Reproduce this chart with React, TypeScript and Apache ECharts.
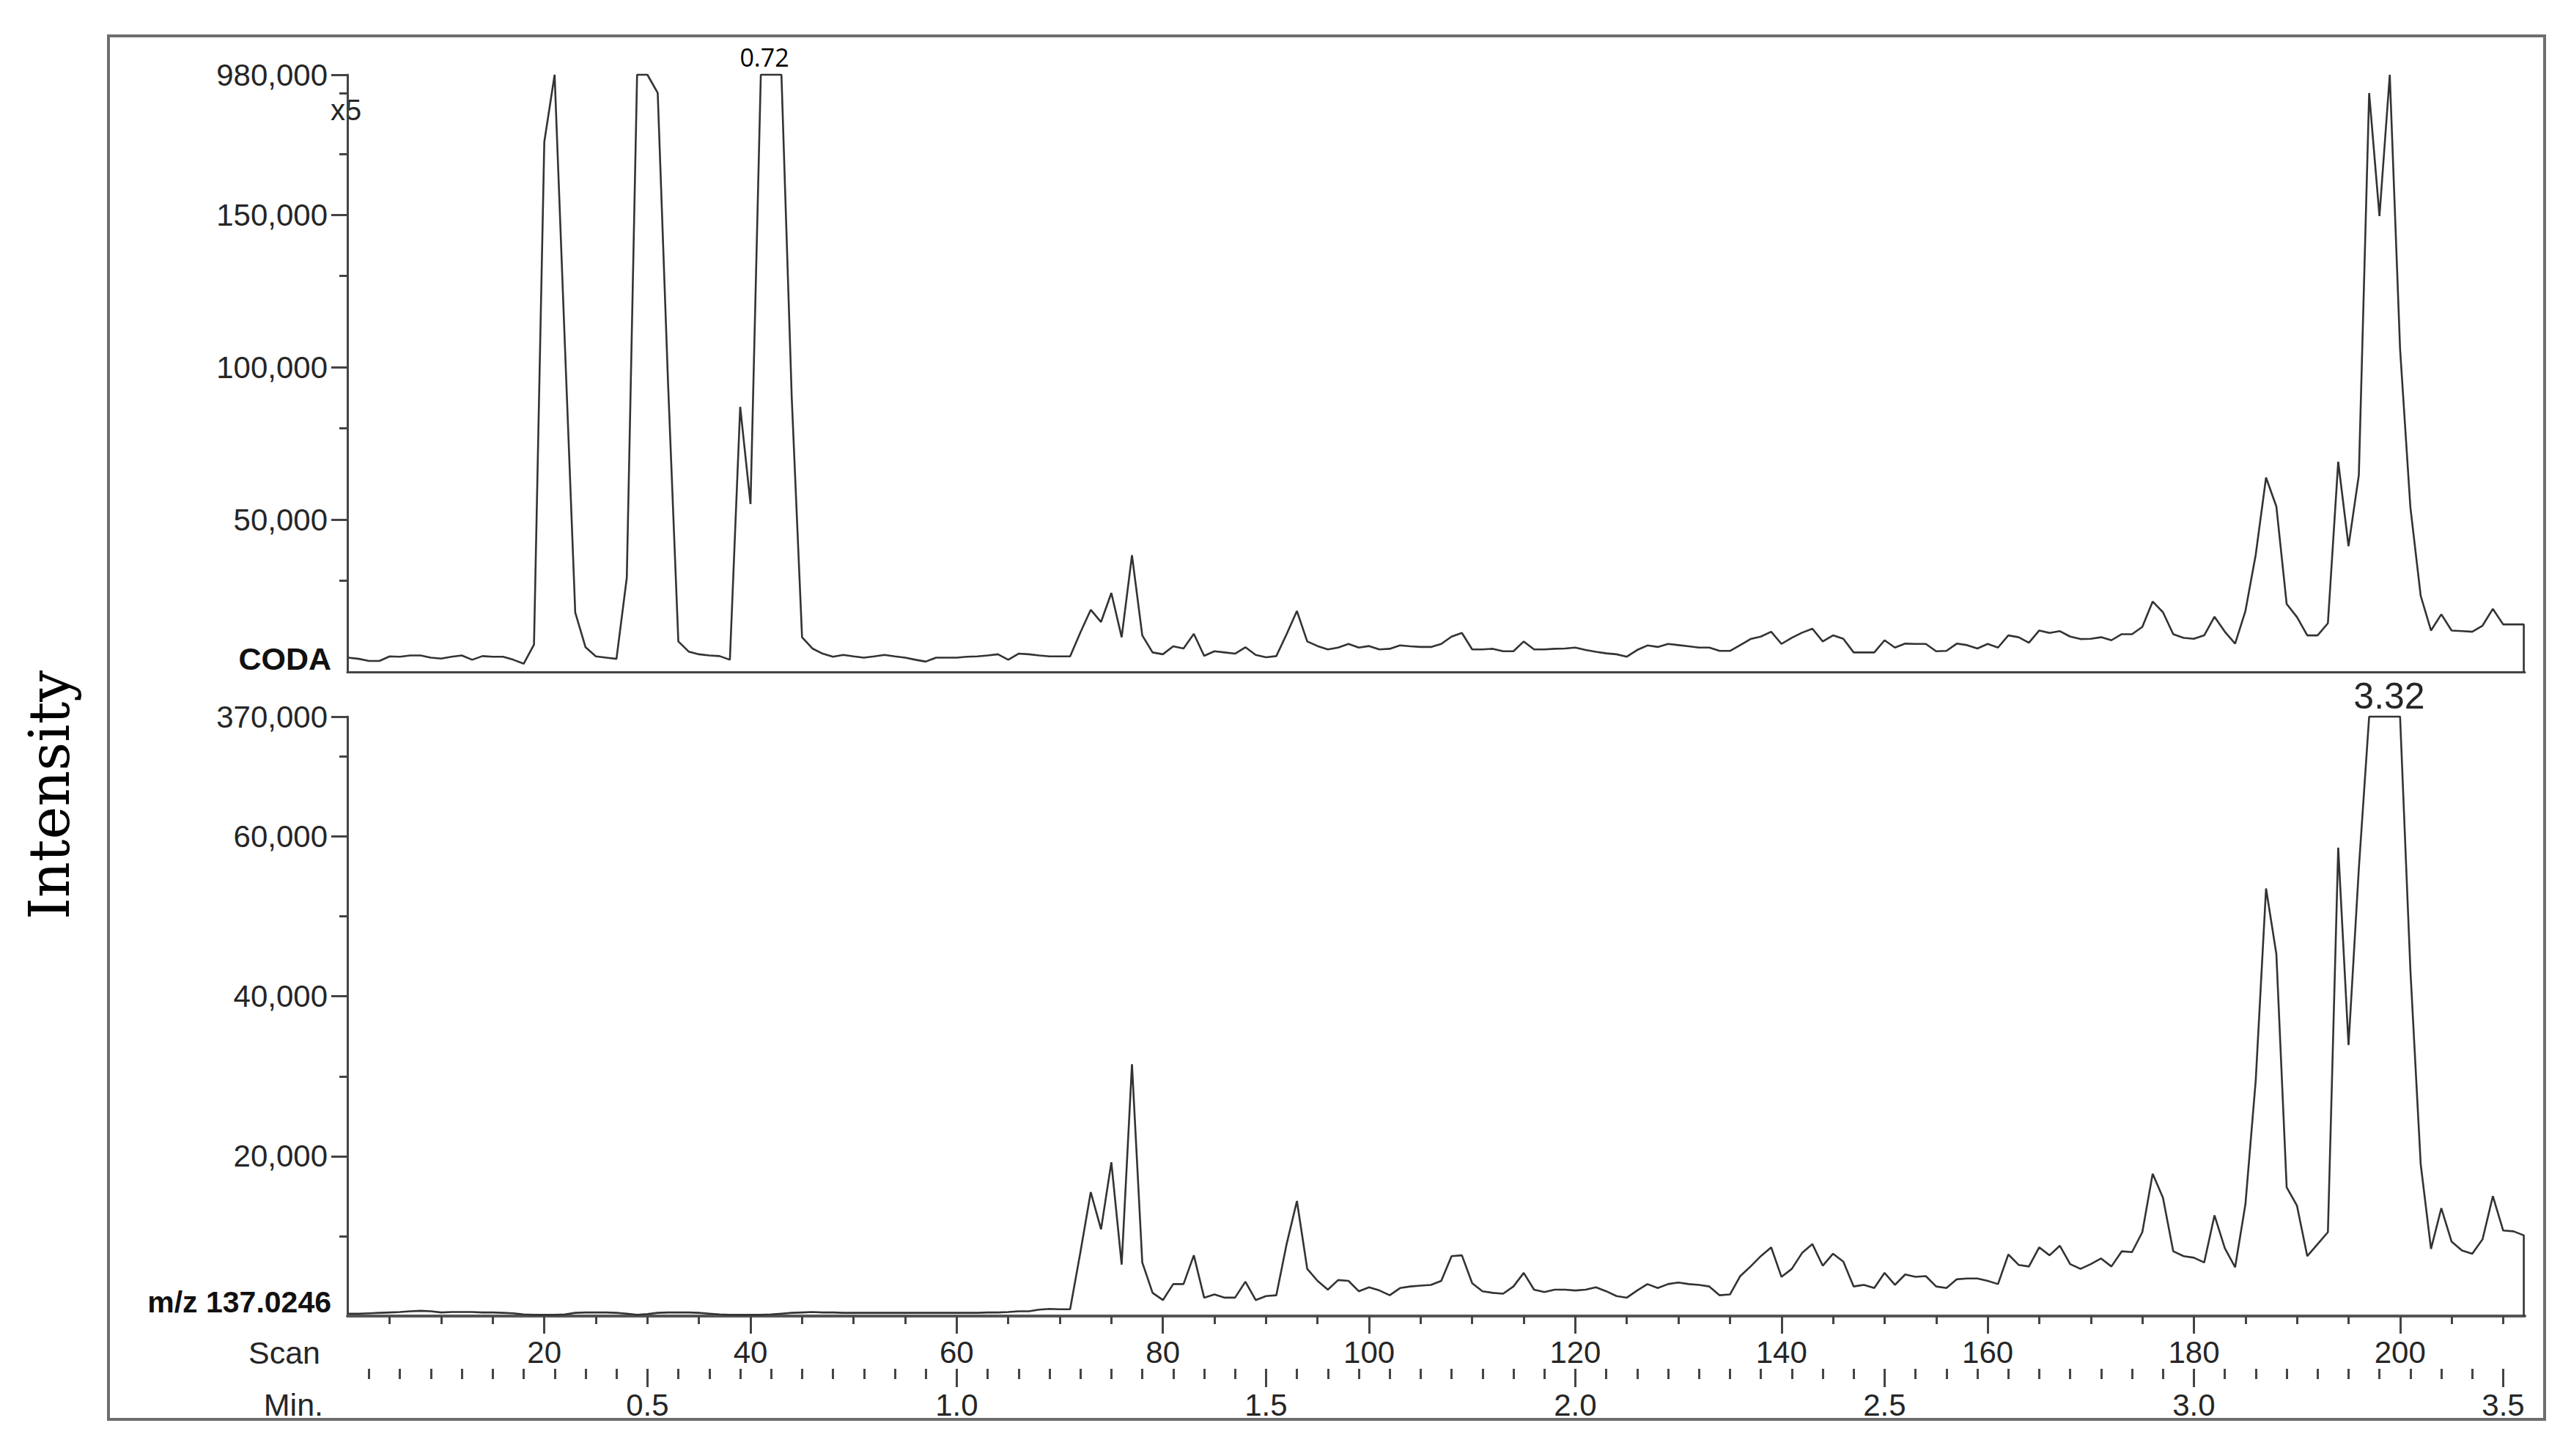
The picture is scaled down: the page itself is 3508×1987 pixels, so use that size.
import React, { useEffect, useRef } from 'react';
import * as echarts from 'echarts';

// ---------- data ----------
const SCAN_START = 1;

// CODA trace (scan 1..212), displayed x5 (full scale 980,000 -> 196,000)
const TOP_INTENSITY = [
  4700, 4300, 3600, 3600, 5100, 5000, 5400, 5400, 4700, 4400,
  5000, 5400, 4000, 5200, 5000, 5000, 4000, 2700, 9000, 174000,
  196000, 107000, 19500, 8100, 5100, 4700, 4300, 30900, 196000, 196000,
  190000, 95000, 10000, 6700, 5800, 5400, 5200, 4000, 87000, 55100,
  196000, 196000, 196000, 90000, 11400, 7700, 6000, 5000, 5600, 5100,
  4700, 5100, 5600, 5100, 4700, 4000, 3400, 4700, 4700, 4700,
  5000, 5100, 5400, 5800, 4000, 6000, 5800, 5400, 5100, 5100,
  5100, 13000, 20400, 16400, 25900, 11400, 38300, 12000, 6400, 5800,
  8400, 7700, 12500, 5300, 6800, 6400, 6000, 8100, 5600, 4800,
  5200, 12400, 20000, 10000, 8500, 7400, 8000, 9200, 8000, 8500,
  7400, 7600, 8700, 8400, 8200, 8200, 9200, 11600, 12800, 7400,
  7400, 7600, 6800, 6800, 10000, 7400, 7400, 7600, 7700, 8000,
  7200, 6600, 6100, 5800, 5000, 7200, 8700, 8200, 9200, 8800,
  8400, 8000, 8000, 6900, 6900, 8800, 10800, 11600, 13200, 9200,
  11200, 12900, 14200, 10000, 12000, 10900, 6400, 6400, 6400, 10400,
  8000, 9300, 9200, 9200, 6800, 6900, 9300, 8800, 7700, 9200,
  8000, 12000, 11400, 9600, 13600, 12800, 13400, 11600, 10800, 10900,
  11400, 10400, 12400, 12400, 14800, 23100, 19600, 12400, 11200, 10900,
  12000, 18100, 13200, 9300, 20000, 38500, 63800, 54300, 22300, 18000,
  12000, 12000, 16000, 69000, 41300, 64600, 190000, 149600, 196000, 106000,
  54000, 25000, 13600, 18900, 13600, 13400, 13200, 15200, 20700, 15600,
  15600, 15600,
];

// m/z 137.0246 trace (scan 1..212), displayed x5 (full scale 370,000 -> 75,000)
const BOTTOM_INTENSITY = [
  300, 300, 350, 400, 450, 500, 600, 650, 600, 450,
  500, 500, 500, 450, 450, 400, 350, 200, 150, 150,
  150, 200, 400, 450, 450, 450, 400, 300, 150, 250,
  400, 450, 450, 450, 400, 300, 200, 150, 150, 150,
  150, 200, 300, 400, 450, 500, 450, 450, 400, 400,
  400, 400, 400, 400, 400, 400, 400, 400, 400, 400,
  400, 400, 450, 450, 500, 600, 600, 800, 900, 850,
  850, 8000, 15500, 10850, 19240, 6440, 31500, 6700, 2900, 2000,
  4000, 4000, 7600, 2300, 2700, 2300, 2300, 4300, 2000, 2500,
  2600, 9000, 14400, 5900, 4400, 3300, 4500, 4400, 3100, 3600,
  3200, 2600, 3500, 3700, 3800, 3900, 4400, 7500, 7600, 4100,
  3100, 2900, 2800, 3700, 5400, 3300, 3000, 3300, 3300, 3200,
  3300, 3600, 3100, 2500, 2300, 3200, 4000, 3500, 4000, 4200,
  4000, 3900, 3700, 2600, 2700, 5000, 6200, 7500, 8600, 4900,
  5900, 7900, 9000, 6300, 7800, 6800, 3700, 3900, 3500, 5400,
  3900, 5200, 4900, 5000, 3700, 3500, 4600, 4700, 4700, 4400,
  4000, 7700, 6400, 6200, 8600, 7600, 8800, 6500, 5900, 6500,
  7200, 6200, 8100, 8000, 10500, 17800, 14800, 8100, 7500, 7300,
  6700, 12600, 8500, 6100, 14000, 29500, 53500, 45300, 16100, 13800,
  7500, 9000, 10500, 58600, 33900, 56000, 75000, 75000, 75000, 75000,
  43300, 19000, 8400, 13500, 9300, 8200, 7800, 9600, 15000, 10700,
  10600, 10100,
];

const TRACE_NAMES = ['CODA', 'm/z 137.0246'];
const PEAK_LABELS = ['0.72', '3.32'];
const SCALE_LABEL = 'x5';

const SCAN_TICK_LABELS = [20, 40, 60, 80, 100, 120, 140, 160, 180, 200];
const MIN_TICK_LABELS = [0.5, 1.0, 1.5, 2.0, 2.5, 3.0, 3.5];

const TOP_Y_MAX = 196000;
const TOP_Y_TICKS = [50000, 100000, 150000, 196000];
const TOP_Y_LABELS = ['50,000', '100,000', '150,000', '980,000'];
const TOP_Y_MINOR = [30000, 80000, 130000, 170000, 190000];

const BOTTOM_Y_MAX = 75000;
const BOTTOM_Y_TICKS = [20000, 40000, 60000, 75000];
const BOTTOM_Y_LABELS = ['20,000', '40,000', '60,000', '370,000'];
const BOTTOM_Y_MINOR = [10000, 30000, 50000, 70000];

const X_MIN = 0.9;
const X_MAX = 212.1;

// ---------- helpers ----------
const toSeries = (vals: number[]) => {
  const pts: number[][] = vals.map((v, i) => [SCAN_START + i, v]);
  const last = SCAN_START + vals.length - 1;
  pts.push([last, 0]);
  return pts;
};

const FONT = '"Liberation Sans", Arial, Helvetica, sans-serif';
const AX = '#444';
const TXT = '#262626';

const scanMinor: number[] = [];
for (let s = 5; s <= 210; s += 5) scanMinor.push(s);
const minMinor: number[] = [];
for (let i = 1; i <= 70; i++) minMinor.push(Math.round(i * 5) / 100);

const labelFor = (ticks: number[], labels: string[]) => (v: number) => {
  const idx = ticks.findIndex((t) => Math.abs(t - v) < 1e-6);
  return idx >= 0 ? labels[idx] : '';
};

export default function App() {
  const ref = useRef<HTMLDivElement>(null);

  useEffect(() => {
    if (!ref.current) return;
    const chart = echarts.init(ref.current, undefined, {
      renderer: 'svg',
      width: 3508,
      height: 1987,
    });

    const G_LEFT = 474;
    const G_WIDTH = 2971;

    const baseX = {
      type: 'value',
      min: X_MIN,
      max: X_MAX,
      splitLine: { show: false },
      position: 'bottom',
    };

    const option: any = {
      animation: false,
      backgroundColor: '#ffffff',
      grid: [
        { left: G_LEFT, top: 102, width: G_WIDTH, height: 815 },
        { left: G_LEFT, top: 978, width: G_WIDTH, height: 818 },
        { left: G_LEFT, top: 1867, width: G_WIDTH, height: 1 },
      ],
      xAxis: [
        {
          ...baseX,
          gridIndex: 0,
          axisLine: { show: true, onZero: false, lineStyle: { color: AX, width: 3 } },
          axisTick: { show: false },
          axisLabel: { show: false },
        },
        {
          ...baseX,
          gridIndex: 1,
          axisLine: { show: true, onZero: false, lineStyle: { color: '#555', width: 4 } },
          axisTick: {
            show: true,
            customValues: SCAN_TICK_LABELS,
            length: 24,
            lineStyle: { color: AX, width: 3 },
          },
          axisLabel: {
            show: true,
            customValues: SCAN_TICK_LABELS,
            margin: 28,
            fontSize: 42,
            fontFamily: FONT,
            color: TXT,
          },
        },
        {
          ...baseX,
          gridIndex: 1,
          axisLine: { show: false, onZero: false },
          axisTick: {
            show: true,
            customValues: scanMinor,
            length: 11,
            lineStyle: { color: AX, width: 3 },
          },
          axisLabel: { show: false },
        },
        {
          type: 'value',
          gridIndex: 2,
          position: 'bottom',
          min: X_MIN / 60,
          max: X_MAX / 60,
          splitLine: { show: false },
          axisLine: { show: false, onZero: false },
          axisTick: {
            show: true,
            customValues: MIN_TICK_LABELS,
            length: 25,
            lineStyle: { color: AX, width: 3 },
          },
          axisLabel: {
            show: true,
            customValues: MIN_TICK_LABELS,
            formatter: (v: number) => v.toFixed(1),
            margin: 28,
            fontSize: 42,
            fontFamily: FONT,
            color: TXT,
          },
        },
        {
          type: 'value',
          gridIndex: 2,
          position: 'bottom',
          min: X_MIN / 60,
          max: X_MAX / 60,
          splitLine: { show: false },
          axisLine: { show: false, onZero: false },
          axisTick: {
            show: true,
            customValues: minMinor,
            length: 14,
            lineStyle: { color: AX, width: 3 },
          },
          axisLabel: { show: false },
        },
      ],
      yAxis: [
        {
          type: 'value',
          gridIndex: 0,
          position: 'left',
          min: 0,
          max: TOP_Y_MAX,
          splitLine: { show: false },
          axisLine: { show: true, lineStyle: { color: AX, width: 3 } },
          axisTick: {
            show: true,
            customValues: TOP_Y_TICKS,
            length: 22,
            lineStyle: { color: AX, width: 3 },
          },
          axisLabel: {
            show: true,
            customValues: TOP_Y_TICKS,
            formatter: labelFor(TOP_Y_TICKS, TOP_Y_LABELS),
            margin: 27,
            fontSize: 42,
            fontFamily: FONT,
            color: TXT,
          },
        },
        {
          type: 'value',
          gridIndex: 0,
          position: 'left',
          min: 0,
          max: TOP_Y_MAX,
          splitLine: { show: false },
          axisLine: { show: false },
          axisTick: {
            show: true,
            customValues: TOP_Y_MINOR,
            length: 11,
            lineStyle: { color: AX, width: 3 },
          },
          axisLabel: { show: false },
        },
        {
          type: 'value',
          gridIndex: 1,
          position: 'left',
          min: 0,
          max: BOTTOM_Y_MAX,
          splitLine: { show: false },
          axisLine: { show: true, lineStyle: { color: AX, width: 3 } },
          axisTick: {
            show: true,
            customValues: BOTTOM_Y_TICKS,
            length: 22,
            lineStyle: { color: AX, width: 3 },
          },
          axisLabel: {
            show: true,
            customValues: BOTTOM_Y_TICKS,
            formatter: labelFor(BOTTOM_Y_TICKS, BOTTOM_Y_LABELS),
            margin: 27,
            fontSize: 42,
            fontFamily: FONT,
            color: TXT,
          },
        },
        {
          type: 'value',
          gridIndex: 1,
          position: 'left',
          min: 0,
          max: BOTTOM_Y_MAX,
          splitLine: { show: false },
          axisLine: { show: false },
          axisTick: {
            show: true,
            customValues: BOTTOM_Y_MINOR,
            length: 11,
            lineStyle: { color: AX, width: 3 },
          },
          axisLabel: { show: false },
        },
        {
          type: 'value',
          gridIndex: 2,
          min: 0,
          max: 1,
          show: false,
        },
      ],
      series: [
        {
          name: TRACE_NAMES[0],
          type: 'line',
          xAxisIndex: 0,
          yAxisIndex: 0,
          data: toSeries(TOP_INTENSITY),
          showSymbol: false,
          symbol: 'none',
          clip: false,
          lineStyle: { color: '#333', width: 2.6 },
        },
        {
          name: TRACE_NAMES[1],
          type: 'line',
          xAxisIndex: 1,
          yAxisIndex: 2,
          data: toSeries(BOTTOM_INTENSITY),
          showSymbol: false,
          symbol: 'none',
          clip: false,
          lineStyle: { color: '#333', width: 2.6 },
        },
      ],
      graphic: [
        {
          type: 'rect',
          shape: { x: 148, y: 49, width: 3324, height: 1888 },
          style: { fill: 'none', stroke: '#6e6e6e', lineWidth: 4 },
          silent: true,
        },
        {
          type: 'text',
          x: 67,
          y: 1085,
          rotation: Math.PI / 2,
          style: {
            text: 'Intensity',
            fontSize: 76,
            fontFamily: '"DejaVu Serif", "Liberation Serif", serif',
            fill: '#000',
            align: 'center',
            verticalAlign: 'middle',
          },
        },
        {
          type: 'text',
          x: 472,
          y: 150,
          style: {
            text: SCALE_LABEL,
            fontSize: 40,
            fontFamily: FONT,
            fill: TXT,
            align: 'center',
            verticalAlign: 'middle',
          },
        },
        {
          type: 'text',
          x: 452,
          y: 899,
          style: {
            text: TRACE_NAMES[0],
            fontSize: 43,
            fontWeight: 'bold',
            fontFamily: FONT,
            fill: '#111',
            align: 'right',
            verticalAlign: 'middle',
          },
        },
        {
          type: 'text',
          x: 452,
          y: 1777,
          style: {
            text: TRACE_NAMES[1],
            fontSize: 41,
            fontWeight: 'bold',
            fontFamily: FONT,
            fill: '#111',
            align: 'right',
            verticalAlign: 'middle',
          },
        },
        {
          type: 'text',
          x: 437,
          y: 1846,
          style: {
            text: 'Scan',
            fontSize: 43,
            fontFamily: FONT,
            fill: TXT,
            align: 'right',
            verticalAlign: 'middle',
          },
        },
        {
          type: 'text',
          x: 441,
          y: 1917,
          style: {
            text: 'Min.',
            fontSize: 43,
            fontFamily: FONT,
            fill: TXT,
            align: 'right',
            verticalAlign: 'middle',
          },
        },
        {
          type: 'text',
          x: 1043,
          y: 78,
          style: {
            text: PEAK_LABELS[0],
            fontSize: 34,
            fontFamily: '"Open Sans", "Noto Sans", sans-serif',
            fill: '#000',
            align: 'center',
            verticalAlign: 'middle',
          },
        },
        {
          type: 'text',
          x: 3260,
          y: 950,
          style: {
            text: PEAK_LABELS[1],
            fontSize: 50,
            fontFamily: FONT,
            fill: TXT,
            align: 'center',
            verticalAlign: 'middle',
          },
        },
      ],
    };

    chart.setOption(option);
    return () => chart.dispose();
  }, []);

  return (
    <div
      ref={ref}
      style={{
        position: 'absolute',
        left: 0,
        top: 0,
        width: 3508,
        height: 1987,
        background: '#fff',
      }}
    />
  );
}
